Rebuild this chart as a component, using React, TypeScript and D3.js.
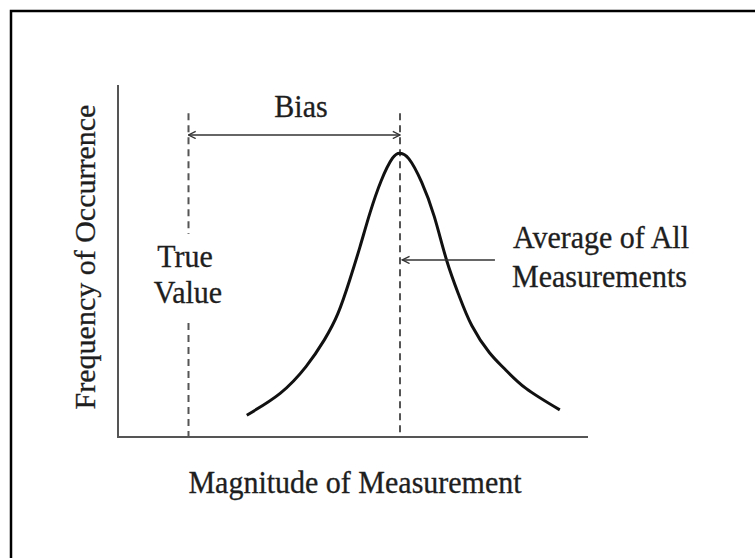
import * as d3 from 'd3';
import { useRef, useEffect } from 'react';

// curve (x: magnitude, y: frequency), both 0..100
const curveX = [27.4, 34.5, 40.0, 43.9, 46.8, 49.3, 51.5, 53.6, 56.0, 58.4, 60.0, 61.9, 64.6, 67.3, 69.9, 72.5, 75.3, 79.0, 82.3, 86.8, 94.0];
const curveY = [6.2, 12.4, 20.0, 27.6, 35.1, 44.6, 54.1, 63.6, 72.8, 79.2, 80.6, 79.0, 72.4, 62.6, 50.3, 40.4, 31.6, 24.0, 19.3, 13.8, 7.7];

const trueValue = 15;
const meanValue = 60;
const refLineTop = 92;
const trueGap = [32.4, 57.7];
const biasLevel = 85.8;
const avgArrow = [60.5, 80.2, 50.3];

const xLabel = "Magnitude of Measurement";
const yLabel = "Frequency of Occurrence";
const biasLabel = "Bias";
const trueLabel = ["True", "Value"];
const avgLabel = ["Average of All", "Measurements"];

const App = () => {
    const ref: any = useRef();
    const W = 755, H = 558;
    const margin = { left: 118, right: 167, top: 85, bottom: 121 };

    useEffect(() => {
        const svg = d3.select(ref.current);
        svg.selectAll("*").remove();

        const x = d3.scaleLinear().domain([0, 100]).range([margin.left, W - margin.right]);
        const y = d3.scaleLinear().domain([0, 100]).range([H - margin.bottom, margin.top]);

        const font = "'Liberation Serif', 'Times New Roman', serif";
        const textCol = "#1e1e1e";

        const defs = svg.append("defs");
        defs.append("marker")
            .attr("id", "arr")
            .attr("viewBox", "0 0 10 10")
            .attr("refX", 9).attr("refY", 5)
            .attr("markerWidth", 9).attr("markerHeight", 9)
            .attr("markerUnits", "userSpaceOnUse")
            .attr("orient", "auto-start-reverse")
            .append("path")
            .attr("d", "M1,1 L9,5 L1,9")
            .attr("fill", "none")
            .attr("stroke", "#333")
            .attr("stroke-width", 1.5);

        // frame
        svg.append("path")
            .attr("d", `M11,${H} V11 H${W}`)
            .attr("fill", "none")
            .attr("stroke", "#000")
            .attr("stroke-width", 2.5);

        // axes
        svg.append("path")
            .attr("d", `M${x(0)},${y(100)} V${y(0)} H${x(100)}`)
            .attr("fill", "none")
            .attr("stroke", "#555")
            .attr("stroke-width", 2);

        // dashed reference lines
        const dash = (xv: number, y0: number, y1: number) => svg.append("line")
            .attr("x1", x(xv)).attr("x2", x(xv))
            .attr("y1", y(y0)).attr("y2", y(y1))
            .attr("stroke", "#555")
            .attr("stroke-width", 2)
            .attr("stroke-dasharray", "7,5");
        dash(trueValue, refLineTop, trueGap[1]);
        dash(trueValue, trueGap[0], 0);
        dash(meanValue, refLineTop, 0);

        // distribution curve
        const pts: [number, number][] = curveX.map((d, i) => [d, curveY[i]]);
        const line = d3.line<[number, number]>()
            .x(d => x(d[0]))
            .y(d => y(d[1]))
            .curve(d3.curveNatural);
        svg.append("path")
            .attr("d", line(pts))
            .attr("fill", "none")
            .attr("stroke", "#111")
            .attr("stroke-width", 3);

        // bias arrow
        svg.append("line")
            .attr("x1", x(trueValue)).attr("x2", x(meanValue))
            .attr("y1", y(biasLevel)).attr("y2", y(biasLevel))
            .attr("stroke", "#333").attr("stroke-width", 1.5)
            .attr("marker-start", "url(#arr)")
            .attr("marker-end", "url(#arr)");

        // average arrow
        svg.append("line")
            .attr("x1", x(avgArrow[1])).attr("x2", x(avgArrow[0]))
            .attr("y1", y(avgArrow[2])).attr("y2", y(avgArrow[2]))
            .attr("stroke", "#333").attr("stroke-width", 1.5)
            .attr("marker-end", "url(#arr)");

        const txt = (s: string, tx: number, ty: number, anchor: string, sy = 1.08) => svg.append("text")
            .attr("transform", `translate(${tx},${ty}) scale(1,${sy})`)
            .attr("text-anchor", anchor)
            .attr("font-family", font)
            .attr("font-size", 30)
            .attr("fill", textCol)
            .attr("stroke", textCol)
            .attr("stroke-width", 0.3)
            .text(s);

        txt(biasLabel, 301, 117, "middle");
        txt(trueLabel[0], 185, 267, "middle");
        txt(trueLabel[1], 188, 303, "middle");
        txt(avgLabel[0], 513, 248, "start");
        txt(avgLabel[1], 512, 287, "start");
        txt(xLabel, 355, 493, "middle");
        txt(yLabel, 95, 257, "middle", 1)
            .attr("transform", "translate(95,257) rotate(-90)");
    }, []);

    return (
        <svg ref={ref} width={W} height={H}
            style={{ position: "absolute", left: 0, top: 0, background: "#fff" }}>
        </svg>
    );
};

export default App;
